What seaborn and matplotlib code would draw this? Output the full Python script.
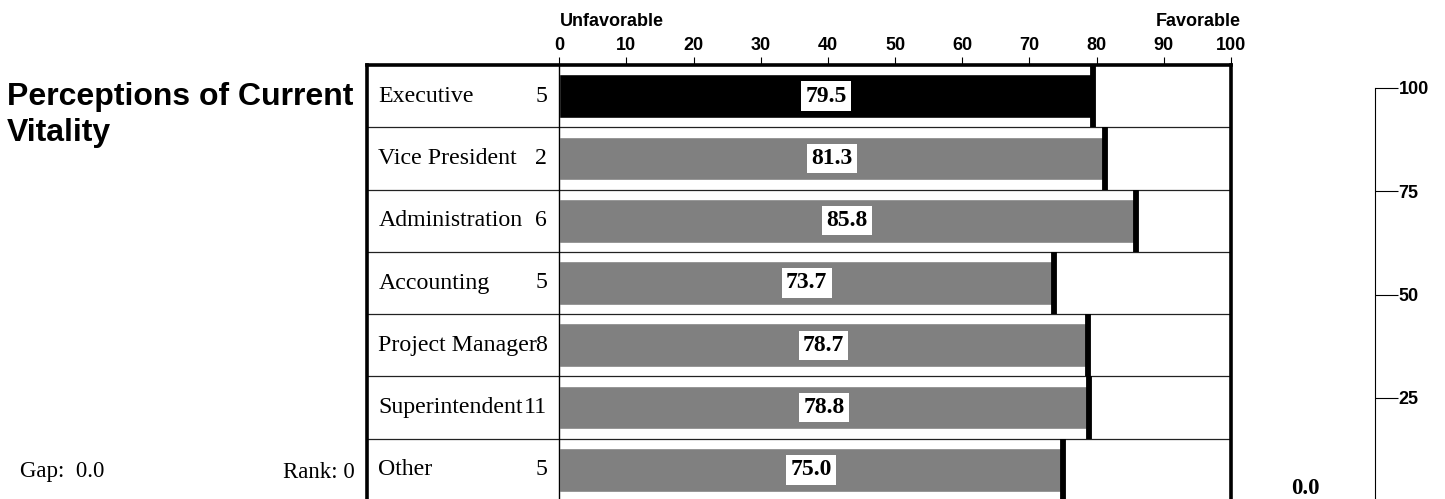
import matplotlib
matplotlib.use("Agg")
import matplotlib.pyplot as plt
import seaborn as sns
import pandas as pd

# ---- data ----
categories = ["Executive", "Vice President", "Administration", "Accounting",
              "Project Manager", "Superintendent", "Other"]
counts = [5, 2, 6, 5, 8, 11, 5]
scores = [79.5, 81.3, 85.8, 73.7, 78.7, 78.8, 75.0]
top_ticks = [0, 10, 20, 30, 40, 50, 60, 70, 80, 90, 100]
scale_ticks = [25, 50, 75, 100]
gap_value = 0.0
rank_value = 0
scale_value = 0.0

sns.set_theme(style="white")
plt.rcParams["font.family"] = ["Liberation Serif", "DejaVu Serif"]
plt.rcParams["text.color"] = "black"
plt.rcParams["xtick.color"] = "black"
plt.rcParams["ytick.color"] = "black"
plt.rcParams["axes.edgecolor"] = "black"

SANS = ["Liberation Sans", "DejaVu Sans"]
SERIF = ["Liberation Serif", "DejaVu Serif"]

W, H = 1445, 499
fig = plt.figure(figsize=(W / 100, H / 100), dpi=100)


def fx(px):
    return px / W


def fy(py):
    return 1 - py / H


# ---- main panel: label column + bar area ----
ax = fig.add_axes([fx(367), fy(501), (1231 - 367) / W, (501 - 65) / H])
df = pd.DataFrame({"group": categories, "score": scores})
palette = ["#000000"] + ["#808080"] * (len(categories) - 1)
sns.barplot(data=df, x="score", y="group", hue="group", palette=palette,
            legend=False, width=0.7, saturation=1, orient="h", ax=ax)
ax.set_xlim(-28.6, 100)
ax.set_ylim(len(categories) - 0.5, -0.5)

# end-of-bar markers spanning the full row
ax.vlines(scores, [i - 0.5 for i in range(len(scores))],
          [i + 0.5 for i in range(len(scores))], colors="black", lw=4.2, zorder=4)

# row separators and the column divider
for i in range(len(categories) - 1):
    ax.axhline(i + 0.5, color="#222222", lw=0.9, zorder=1)
ax.axvline(0, color="black", lw=1.0, zorder=1)

# row labels, counts, value boxes
for i, (name, n, v) in enumerate(zip(categories, counts, scores)):
    ax.text(-26.9, i, name, ha="left", va="center", fontsize=17.2,
            family=SERIF, color="black")
    ax.text(-1.8, i, str(n), ha="right", va="center", fontsize=17.2,
            family=SERIF, color="black")
    ax.text(v / 2, i, f"{v:.1f}", ha="center", va="center", fontsize=17,
            family=SERIF, fontweight="bold", color="black", zorder=6,
            bbox=dict(boxstyle="square,pad=0.18", fc="white", ec="none"))

ax.set_xlabel("")
ax.set_ylabel("")
ax.set_yticks([])
ax.xaxis.tick_top()
ax.set_xticks(top_ticks)
ax.set_xticklabels([str(t) for t in top_ticks], fontsize=13,
                   fontweight="bold", family=SANS, color="black")
ax.tick_params(axis="x", direction="out", length=6, width=0.8,
               color="black", pad=2, top=True, bottom=False)
for side in ["top", "left", "right", "bottom"]:
    ax.spines[side].set_visible(True)
    ax.spines[side].set_color("black")
    ax.spines[side].set_linewidth(2.6)

# ---- scale on the right ----
ax2 = fig.add_axes([fx(1375) - 0.01, fy(501), 0.01, (501 - 88) / H])
ax2.set_ylim(0, 100)
ax2.set_xticks([])
ax2.patch.set_alpha(0)
for side in ["top", "left", "bottom"]:
    ax2.spines[side].set_visible(False)
ax2.spines["right"].set_color("black")
ax2.spines["right"].set_linewidth(0.8)
ax2.yaxis.tick_right()
ax2.set_yticks(scale_ticks)
ax2.set_yticklabels([str(t) for t in scale_ticks], fontsize=13,
                    fontweight="bold", family=SANS, color="black")
ax2.tick_params(axis="y", direction="out", length=16.5, width=0.8,
                color="black", pad=0.5, right=True, left=False)

# ---- free text ----
fig.text(fx(7), fy(105), "Perceptions of Current", fontsize=23,
         fontweight="bold", family=SANS, ha="left", va="baseline",
         color="black")
fig.text(fx(7), fy(141), "Vitality", fontsize=23,
         fontweight="bold", family=SANS, ha="left", va="baseline",
         color="black")
fig.text(fx(560), fy(21), "Unfavorable", fontsize=13, fontweight="bold",
         family=SANS, ha="left", va="center", color="black")
fig.text(fx(1241), fy(21), "Favorable", fontsize=13, fontweight="bold",
         family=SANS, ha="right", va="center", color="black")
fig.text(fx(20), fy(472), f"Gap:  {gap_value:.1f}", fontsize=16.5,
         family=SERIF, ha="left", va="center", color="black")
fig.text(fx(355), fy(472), f"Rank: {rank_value}", fontsize=16.5,
         family=SERIF, ha="right", va="center", color="black")
fig.text(fx(1305), fy(488), f"{scale_value:.1f}", fontsize=16.5,
         family=SERIF, fontweight="bold", ha="center", va="center",
         color="black")

fig.savefig("out.png", dpi=100, facecolor="white")
